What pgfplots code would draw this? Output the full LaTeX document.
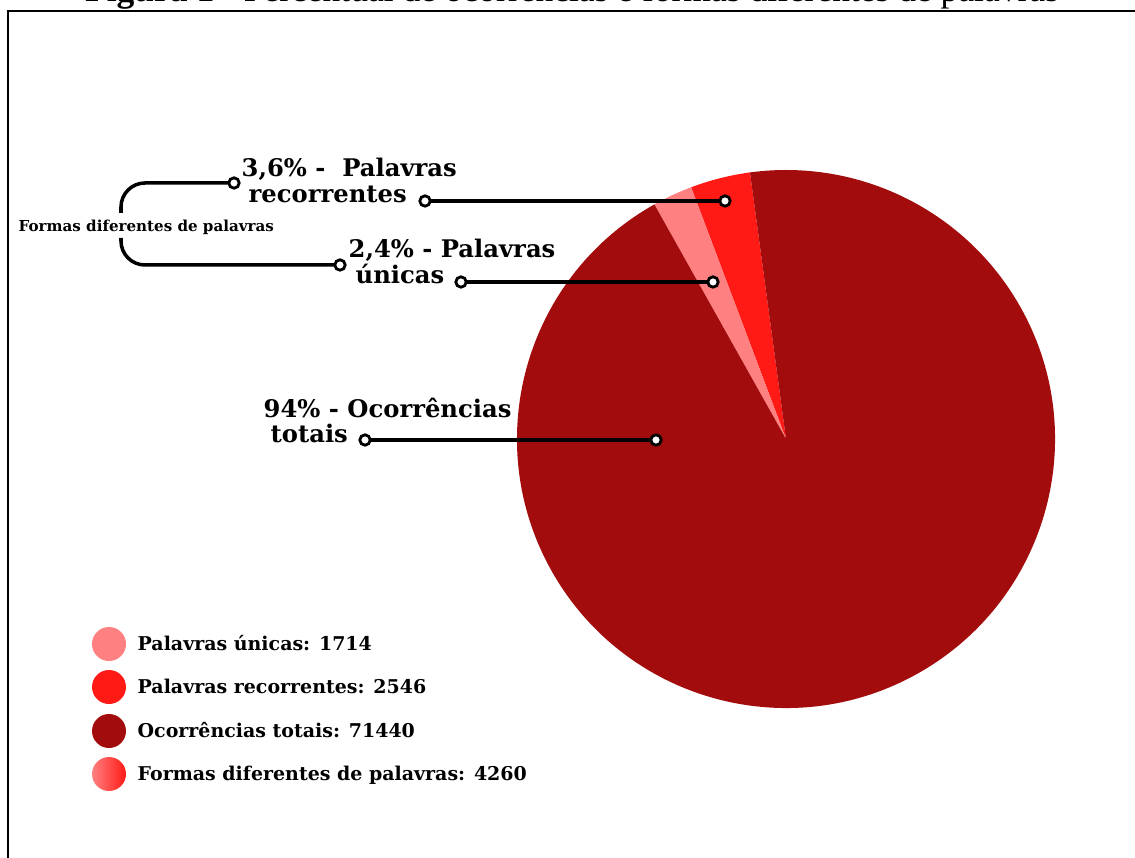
\documentclass[border=0pt]{standalone}
\usepackage{pgfplots}
\pgfplotsset{compat=1.18}
\usepackage{pgfplotstable}
\usepackage{fontspec}
\setmainfont{Liberation Serif}
\newfontfamily\lab{DejaVu Serif}
\definecolor{cunica}{RGB}{255,128,128}
\definecolor{crec}{RGB}{255,26,22}
\definecolor{ctot}{RGB}{163,12,12}
\tikzset{dot/.style={draw=black, fill=white, line width=0.8pt}}

\pgfplotstableread{
slice pct count
recorrentes 3.6 2546
unicas 2.4 1714
totais 94 71440
}\piedata

\begin{document}
\begin{tikzpicture}
\pgfplotstablegetelem{0}{pct}\of\piedata \pgfmathsetmacro{\pA}{\pgfplotsretval}
\pgfplotstablegetelem{1}{pct}\of\piedata \pgfmathsetmacro{\pB}{\pgfplotsretval}
\pgfplotstablegetelem{2}{pct}\of\piedata \pgfmathsetmacro{\pC}{\pgfplotsretval}
\pgfmathsetmacro{\aZero}{97.7}
\pgfmathsetmacro{\aOne}{\aZero+3.6*\pA}
\pgfmathsetmacro{\aTwo}{\aOne+3.6*\pB}
\pgfmathsetmacro{\aThree}{\aTwo+3.6*\pC}
\useasboundingbox (0,0) rectangle (11.35,8.58);
\clip (0,0) rectangle (11.35,8.58);
\begin{axis}[width=11.35cm,height=8.58cm,scale only axis,
  xmin=0,xmax=1135,ymin=0,ymax=858,y dir=reverse,
  axis lines=none, clip=false]
% pie slices
\fill[crec] (axis cs:786,439) -- ++(\aZero:2.69cm) arc[start angle=\aZero,end angle=\aOne,radius=2.69cm] -- cycle;
\fill[cunica] (axis cs:786,439) -- ++(\aOne:2.69cm) arc[start angle=\aOne,end angle=\aTwo,radius=2.69cm] -- cycle;
\fill[ctot] (axis cs:786,439) -- ++(\aTwo:2.69cm) arc[start angle=\aTwo,end angle=\aThree,radius=2.69cm] -- cycle;
% frame
\draw[line width=0.6pt] (axis cs:8,870) -- (axis cs:8,11) -- (axis cs:1140,11);
% title (cut off by the frame top, as in the source)
\node[anchor=base, inner sep=0, font=\fontsize{10.1}{12}\selectfont] at (axis cs:572,2) {\textbf{Figura 1} - Percentual de ocorrências e formas diferentes de palavras};
% connector lines
\draw[line width=1pt] (axis cs:425,201) -- (axis cs:725,201);
\draw[line width=1pt] (axis cs:461,282) -- (axis cs:713,282);
\draw[line width=1pt] (axis cs:365,440) -- (axis cs:656,440);
\draw[line width=1pt, rounded corners=0.24cm] (axis cs:234,183) -- (axis cs:121,183) -- (axis cs:121,213);
\draw[line width=1pt, rounded corners=0.24cm] (axis cs:121,238) -- (axis cs:121,265) -- (axis cs:340,265);
\draw[dot] (axis cs:425,201) circle[radius=0.052cm];
\draw[dot] (axis cs:725,201) circle[radius=0.052cm];
\draw[dot] (axis cs:461,282) circle[radius=0.052cm];
\draw[dot] (axis cs:713,282) circle[radius=0.052cm];
\draw[dot] (axis cs:365,440) circle[radius=0.052cm];
\draw[dot] (axis cs:656,440) circle[radius=0.052cm];
\draw[dot] (axis cs:234,183) circle[radius=0.052cm];
\draw[dot] (axis cs:340,265) circle[radius=0.052cm];
% labels
\node[inner sep=0, anchor=base west, font=\lab\bfseries\fontsize{6.9}{8}\selectfont] at (axis cs:241,177) {3,6\% -\ \ Palavras};
\node[inner sep=0, anchor=base west, font=\lab\bfseries\fontsize{6.9}{8}\selectfont] at (axis cs:248,203) {recorrentes};
\node[inner sep=0, anchor=base west, font=\lab\bfseries\fontsize{6.9}{8}\selectfont] at (axis cs:348,258) {2,4\% - Palavras};
\node[inner sep=0, anchor=base west, font=\lab\bfseries\fontsize{6.9}{8}\selectfont] at (axis cs:355,284) {únicas};
\node[inner sep=0, anchor=base west, font=\lab\bfseries\fontsize{6.9}{8}\selectfont] at (axis cs:263,418) {94\% - Ocorrências};
\node[inner sep=0, anchor=base west, font=\lab\bfseries\fontsize{6.9}{8}\selectfont] at (axis cs:270,443) {totais};
\node[inner sep=0, anchor=base west, font=\lab\bfseries\fontsize{4.3}{5}\selectfont] at (axis cs:18,232) {Formas diferentes de palavras};
% legend
\fill[cunica] (axis cs:109,644) circle[radius=0.17cm];
\fill[crec] (axis cs:109,687) circle[radius=0.17cm];
\fill[ctot] (axis cs:109,731) circle[radius=0.17cm];
\shade[left color=cunica, right color=crec] (axis cs:109,774) circle[radius=0.17cm];
\node[inner sep=0, anchor=base west, font=\lab\bfseries\fontsize{5.4}{6.5}\selectfont] at (axis cs:137,650) {Palavras únicas: 1714};
\node[inner sep=0, anchor=base west, font=\lab\bfseries\fontsize{5.4}{6.5}\selectfont] at (axis cs:137,693) {Palavras recorrentes: 2546};
\node[inner sep=0, anchor=base west, font=\lab\bfseries\fontsize{5.4}{6.5}\selectfont] at (axis cs:137,737) {Ocorrências totais: 71440};
\node[inner sep=0, anchor=base west, font=\lab\bfseries\fontsize{5.4}{6.5}\selectfont] at (axis cs:137,780) {Formas diferentes de palavras: 4260};
\end{axis}
\end{tikzpicture}
\end{document}
